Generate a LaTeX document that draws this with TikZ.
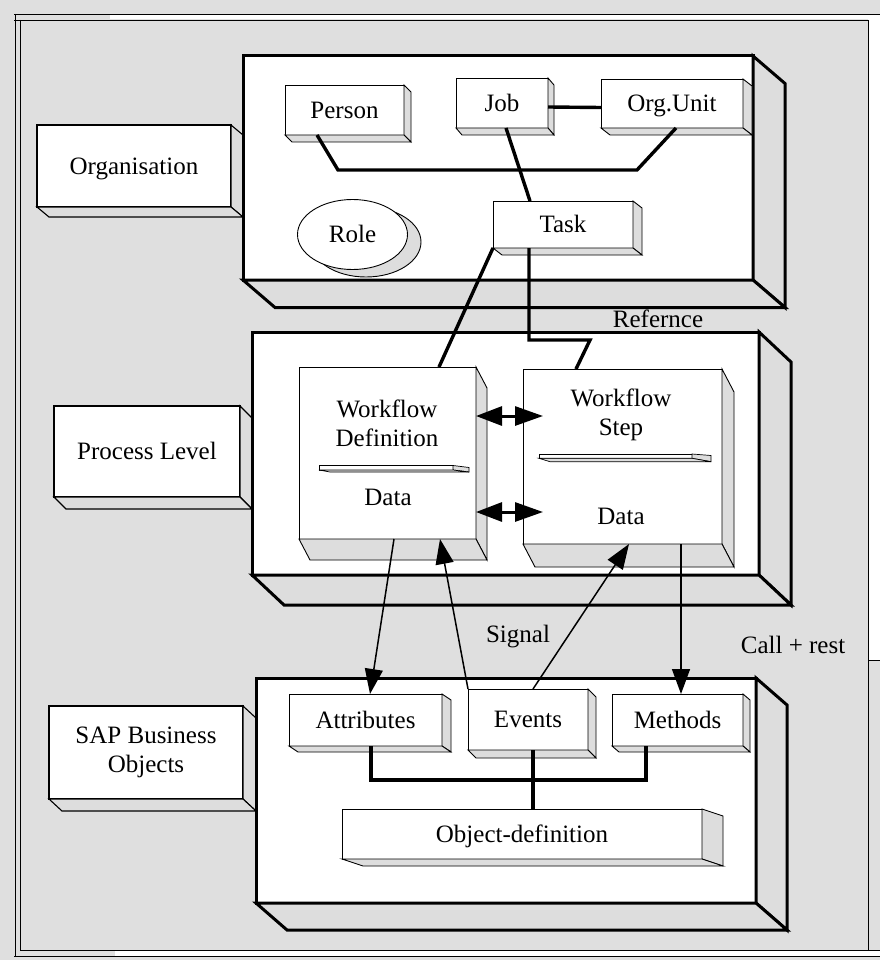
\documentclass[tikz,border=0pt]{standalone}
\usepackage{fontspec}
\setmainfont{Liberation Serif}
\usetikzlibrary{arrows.meta,shapes.geometric,calc}
\definecolor{bggray}{RGB}{223,223,223}
\definecolor{facegray}{RGB}{221,221,221}
\newcommand\boxsides[4]{%
  \draw[#4] (#1.north east) -- ++(#2,#3) -- ([shift={(#2,#3)}]#1.south east) -- (#1.south east) -- cycle;
  \draw[#4] (#1.south west) -- ++(#2,#3) -- ([shift={(#2,#3)}]#1.south east) -- (#1.south east) -- cycle;}
\tikzset{
  every node/.style={font=\fontsize{25}{29}\selectfont, inner sep=0pt, outer sep=0pt},
  oneline/.style={text height=16.5pt, text depth=0pt},
  bigfront/.style={draw, fill=white, line width=3pt},
  bigface/.style={draw, fill=facegray, line width=3pt, line join=miter},
  labelfront/.style={draw, fill=white, line width=1.1pt, align=center},
  labelface/.style={draw, fill=facegray, line width=1.1pt},
  smallfront/.style={draw, fill=white, line width=0.9pt, align=center},
  smallface/.style={draw, fill=facegray, line width=0.9pt},
  barfront/.style={draw, fill=white, line width=0.7pt},
  barface/.style={draw, fill=facegray, line width=0.7pt},
  thickconn/.style={line width=3.4pt},
  thinarrow/.style={line width=1.5pt, -{Triangle[length=25pt,width=18pt]}},
  dblarrow/.style={line width=3pt, {Triangle[length=26pt,width=19pt]}-{Triangle[length=28pt,width=19pt]}},
  framelin/.style={line width=0.8pt}
}
\begin{document}
\begin{tikzpicture}[x=1pt,y=-1pt]
\useasboundingbox (0,0) rectangle (880,960);
\fill[bggray] (0,0) rectangle (880,960);
% frame
\fill[white] (110,14) rectangle (868,19.5);
\fill[white] (868,14) rectangle (880,660);
\fill[white] (115,950.5) rectangle (880,955.5);
\draw[framelin] (14,14) -- (880,14);
\draw[framelin] (14,20) -- (868,20);
\draw[framelin] (15,14) -- (15,956);
\draw[framelin] (20,20) -- (20,950.5);
\draw[framelin] (868,20) -- (868,950.5);
\draw[framelin] (868,660) -- (880,660);
\draw[framelin] (20,950.5) -- (880,950.5);
\draw[framelin] (14,956) -- (880,956);

% ---------------- Organisation level
\node[labelfront, oneline, minimum width=194pt, minimum height=82pt] (orglabel) at (134,166) {Organisation};
\boxsides{orglabel}{12}{10}{labelface}
\node[bigfront, minimum width=510pt, minimum height=224pt] (orgbig) at (498,168) {};
\boxsides{orgbig}{32}{27.5}{bigface}
\node[smallfront, oneline, minimum width=119pt, minimum height=50pt] (person) at (344.5,110) {Person};
\boxsides{person}{7}{7}{smallface}
\node[smallfront, oneline, minimum width=92pt, minimum height=50pt] (job) at (502,103) {Job};
\boxsides{job}{6}{7}{smallface}
\node[smallfront, oneline, minimum width=142pt, minimum height=49pt] (orgunit) at (672,103.5) {Org.Unit};
\boxsides{orgunit}{9}{7}{smallface}
\node[smallfront, oneline, minimum width=140pt, minimum height=47pt] (task) at (563,224.5) {Task};
\boxsides{task}{9}{7}{smallface}
\node[ellipse, smallface, minimum width=110pt, minimum height=70pt] (roleshadow) at (366,242) {};
\node[ellipse, smallfront, oneline, minimum width=110pt, minimum height=70pt] (role) at (352.5,234.5) {Role};

% ---------------- Process level
\node[labelfront, oneline, minimum width=186pt, minimum height=91pt] (proclabel) at (147,451.5) {Process Level};
\boxsides{proclabel}{12}{12}{labelface}
\node[bigfront, minimum width=507pt, minimum height=243pt] (procbig) at (505.5,453.5) {};
\boxsides{procbig}{32}{30}{bigface}
\node[smallfront, minimum width=177pt, minimum height=172pt] (wdef) at (387.5,453) {};
\boxsides{wdef}{11}{21}{smallface}
\node[align=center] (wdeftitle) at (387,423) {Workflow\\Definition};
\draw[barfront] (319,465.5) rectangle (453,470);
\draw[barface] (453,465.5) -- (469,467.5) -- (469,472) -- (453,470) -- cycle;
\draw[barface] (319,470) -- (330,472) -- (469,472) -- (453,470) -- cycle;
\node[oneline] (wdefdata) at (388,497) {Data};
\node[smallfront, minimum width=199pt, minimum height=175pt] (wstep) at (622.5,456.5) {};
\boxsides{wstep}{12}{23}{smallface}
\node[align=center] (wsteptitle) at (621,415) {Workflow\\Step};
\draw[barfront] (539,454) rectangle (692,458.3);
\draw[barface] (692,454) -- (711,455.5) -- (711,461.7) -- (692,458.3) -- cycle;
\draw[barface] (539,458.3) -- (550,461.7) -- (711,461.7) -- (692,458.3) -- cycle;
\node[oneline] (wstepdata) at (621,516) {Data};

% ---------------- SAP Business Objects level
\node[labelfront, minimum width=194pt, minimum height=93pt] (saplabel) at (146,752.5) {SAP Business\\Objects};
\boxsides{saplabel}{13}{12}{labelface}
\node[bigfront, minimum width=500pt, minimum height=225pt] (sapbig) at (506,790.5) {};
\boxsides{sapbig}{31}{27}{bigface}
\node[smallfront, oneline, minimum width=153pt, minimum height=52pt] (attr) at (365.5,720) {Attributes};
\boxsides{attr}{9}{6}{smallface}
\node[smallfront, oneline, minimum width=120pt, minimum height=61pt] (events) at (528,719.5) {Events};
\boxsides{events}{8}{8}{smallface}
\node[smallfront, oneline, minimum width=131pt, minimum height=52pt] (methods) at (677.5,720) {Methods};
\boxsides{methods}{7}{6}{smallface}
\node[smallfront, oneline, minimum width=360pt, minimum height=50pt] (objdef) at (522,834) {Object-definition};
\boxsides{objdef}{21}{7}{smallface}

% ---------------- connectors
\draw[thickconn] ([xshift=-27.5pt]person.south) -- (338,170) -- (637,170) -- ([xshift=4pt]orgunit.south);
\draw[thickconn] ([yshift=-4pt]job.east) -- ([yshift=-4pt]orgunit.west);
\draw[thickconn] ([xshift=4pt]job.south) -- ([xshift=-33pt]task.north);
\draw[thickconn] (task.south west) -- ([xshift=51.5pt]wdef.north);
\draw[thickconn] ([xshift=-34pt]task.south) -- (529,340) -- (590,340) -- ([xshift=-46.5pt]wstep.north);

\draw[dblarrow] ([yshift=37pt]wdef.east) -- ([xshift=20pt,yshift=40.5pt]wstep.west);
\draw[dblarrow] ([yshift=-59pt]wdef.east) -- ([xshift=20pt,yshift=-55.5pt]wstep.west);

\draw[thinarrow] ([xshift=6.5pt]wdef.south) -- ([xshift=4.5pt]attr.north);
\draw[thinarrow] (events.north west) -- ([xshift=52.5pt]wdef.south);
\draw[thinarrow] ([xshift=5pt]events.north) -- ([xshift=6.5pt]wstep.south);
\draw[thinarrow] ([xshift=58.5pt]wstep.south) -- ([xshift=3.5pt]methods.north);

\draw[thickconn] ([xshift=5.5pt]attr.south) -- (371,780) -- (646,780) -- ([xshift=-31.5pt]methods.south);
\draw[thickconn] ([xshift=5pt]events.south) -- ([xshift=11pt]objdef.north);

% ---------------- free labels
\node[oneline] (refernce) at (658,319) {Refernce};
\node[oneline] (signal) at (518,634) {Signal};
\node[oneline] (callrest) at (793,645) {Call + rest};
\end{tikzpicture}
\end{document}
